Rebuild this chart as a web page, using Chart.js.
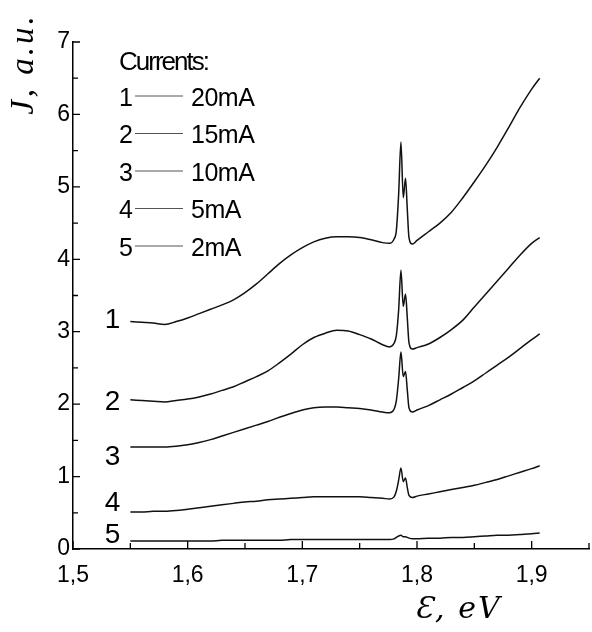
<!DOCTYPE html>
<html><head><meta charset="utf-8">
<script src="https://cdn.jsdelivr.net/npm/chart.js@4.4.1/dist/chart.umd.min.js"></script>
<style>html,body{margin:0;padding:0;background:#fff;} #wrap{width:592px;height:632px;}</style>
</head><body><div id="wrap"><canvas id="c" width="592" height="632"></canvas></div>
<script>
// Photon energy, eV
const energy = [1.55,1.56,1.57,1.58,1.59,1.60,1.61,1.62,1.63,1.64,1.65,1.66,1.67,1.68,1.69,1.70,1.71,1.72,1.73,1.74,1.75,1.76,1.77,
  1.776,1.780,1.782,1.784,1.786,1.788,1.790,1.7915,1.793,1.796,
  1.80,1.81,1.82,1.83,1.84,1.85,1.86,1.87,1.88,1.89,1.90,1.907];
const current20 = [3.14,3.13,3.12,3.10,3.14,3.19,3.25,3.31,3.37,3.44,3.54,3.66,3.80,3.94,4.06,4.16,4.24,4.29,4.31,4.31,4.30,4.27,4.23,
  4.22,4.28,4.40,4.90,5.62,4.85,5.12,4.70,4.30,4.21,
  4.26,4.38,4.50,4.65,4.85,5.07,5.30,5.55,5.82,6.10,6.35,6.50];
const current15 = [2.06,2.05,2.04,2.03,2.05,2.07,2.10,2.14,2.19,2.24,2.31,2.38,2.46,2.57,2.69,2.82,2.92,2.98,3.02,3.01,2.96,2.90,2.82,
  2.79,2.84,2.95,3.30,3.85,3.35,3.52,3.20,2.85,2.76,
  2.78,2.83,2.92,3.03,3.16,3.34,3.52,3.70,3.88,4.06,4.22,4.30];
const current10 = [1.41,1.41,1.41,1.41,1.42,1.44,1.47,1.51,1.56,1.61,1.66,1.71,1.76,1.82,1.87,1.92,1.95,1.96,1.96,1.95,1.94,1.92,1.89,
  1.88,1.93,2.05,2.35,2.72,2.38,2.45,2.20,1.95,1.89,
  1.92,1.98,2.06,2.14,2.23,2.32,2.43,2.54,2.65,2.77,2.89,2.97];
const current5 = [0.51,0.51,0.52,0.52,0.53,0.55,0.57,0.59,0.61,0.63,0.65,0.66,0.68,0.69,0.70,0.71,0.72,0.72,0.72,0.72,0.72,0.71,0.70,
  0.69,0.72,0.80,0.95,1.12,0.93,0.98,0.85,0.74,0.71,
  0.73,0.76,0.79,0.82,0.85,0.88,0.92,0.96,1.01,1.06,1.11,1.15];
const current2 = [0.11,0.11,0.11,0.11,0.11,0.11,0.11,0.11,0.12,0.12,0.12,0.12,0.12,0.12,0.13,0.13,0.13,0.13,0.13,0.13,0.13,0.13,0.13,
  0.13,0.14,0.16,0.18,0.19,0.17,0.17,0.16,0.15,0.14,
  0.14,0.15,0.15,0.16,0.16,0.17,0.18,0.19,0.19,0.20,0.21,0.22];
const seriesValues = [current20, current15, current10, current5, current2];
const seriesNumbers = ['1','2','3','4','5'];
const seriesNames = ['20mA','15mA','10mA','5mA','2mA'];
const legendTitle = 'Currents:';
const curveLabelX = 1.5345;
const curveLabelY = [3.16, 2.03, 1.27, 0.635, 0.19];
const xTicks = [1.5,1.6,1.7,1.8,1.9];
const xMinorTicks = [1.55,1.65,1.75,1.85,1.95];
const yTicks = [0,1,2,3,4,5,6,7];
const yMinorTicks = [0.5,1.5,2.5,3.5,4.5,5.5,6.5];
const xTitle = 'Ɛ, eV';
const yTitle = 'J, a.u.';

const fmt = v => (Math.round(v*10)/10).toString().replace('.', ',');

const datasets = seriesValues.map((vals, i) => ({
  label: seriesNames[i],
  data: energy.map((x, k) => ({x: x, y: vals[k]})),
  borderColor: '#111', borderWidth: 1.5, pointRadius: 0,
  cubicInterpolationMode: 'monotone', fill: false
}));

const deco = {
  id: 'deco',
  afterDraw(chart) {
    const ctx = chart.ctx, xs = chart.scales.x, ys = chart.scales.y;
    const ca = chart.chartArea;
    ctx.save();
    ctx.strokeStyle = '#000'; ctx.lineWidth = 1.3;
    // inward ticks
    ctx.beginPath();
    xTicks.forEach(v => { const p = xs.getPixelForValue(v); ctx.moveTo(p, ca.bottom); ctx.lineTo(p, ca.bottom - 8); });
    xMinorTicks.forEach(v => { const p = xs.getPixelForValue(v); ctx.moveTo(p, ca.bottom); ctx.lineTo(p, ca.bottom - 6); });
    yTicks.forEach(v => { const p = ys.getPixelForValue(v); ctx.moveTo(ca.left, p); ctx.lineTo(ca.left + 7, p); });
    yMinorTicks.forEach(v => { const p = ys.getPixelForValue(v); ctx.moveTo(ca.left, p); ctx.lineTo(ca.left + 5, p); });
    ctx.stroke();
    // curve numbers
    ctx.fillStyle = '#000';
    ctx.font = '28px "Liberation Sans", Arial, sans-serif';
    ctx.textAlign = 'center'; ctx.textBaseline = 'middle';
    curveLabelY.forEach((v, i) => {
      ctx.fillText(seriesNumbers[i], xs.getPixelForValue(curveLabelX), ys.getPixelForValue(v));
    });
    // legend
    ctx.textAlign = 'left';
    ctx.font = '26px "Liberation Sans", Arial, sans-serif';
    ctx.letterSpacing = '-2px';
    ctx.fillText(legendTitle, 119, 63);
    ctx.letterSpacing = '-0.5px';
    ctx.font = '25px "Liberation Sans", Arial, sans-serif';
    seriesNames.forEach((n, i) => {
      const y = 99 + i * 37.5;
      ctx.fillText(seriesNumbers[i], 119, y);
      ctx.fillText(n, 191, y);
      ctx.strokeStyle = '#555'; ctx.lineWidth = 1;
      ctx.beginPath(); ctx.moveTo(135, y - 3); ctx.lineTo(183, y - 3); ctx.stroke();
    });
    // axis titles
    ctx.letterSpacing = '2px';
    ctx.font = 'italic 30px "DejaVu Serif", "Liberation Serif", serif';
    ctx.textAlign = 'center';
    ctx.fillText(xTitle, 458, 610);
    ctx.save();
    ctx.translate(24, 64);
    ctx.rotate(-Math.PI / 2);
    ctx.letterSpacing = '3px';
    ctx.font = 'italic 33px "Liberation Serif", "DejaVu Serif", serif';
    ctx.fillText(yTitle, 0, 0);
    ctx.restore();
    ctx.restore();
  }
};

new Chart(document.getElementById('c'), {
  type: 'line',
  data: { datasets: datasets },
  options: {
    responsive: false, animation: false,
    layout: { padding: { top: 42, right: 3, left: 0, bottom: 0 } },
    plugins: { legend: { display: false }, tooltip: { enabled: false } },
    scales: {
      x: {
        type: 'linear', min: 1.5, max: 1.95,
        afterFit: s => { s.height = 83; },
        afterBuildTicks: s => { s.ticks = xTicks.map(v => ({ value: v })); },
        grid: { display: true, drawOnChartArea: false, drawTicks: false },
        border: { display: true, color: '#000', width: 1.5 },
        ticks: { padding: 13, color: '#000', maxRotation: 0, autoSkip: false,
          font: { family: '"Liberation Sans", Arial, sans-serif', size: 23 }, callback: v => fmt(v) }
      },
      y: {
        type: 'linear', min: 0, max: 7,
        afterFit: s => { s.width = 73; },
        afterBuildTicks: s => { s.ticks = yTicks.map(v => ({ value: v })); },
        grid: { display: true, drawOnChartArea: false, drawTicks: false },
        border: { display: true, color: '#000', width: 1.5 },
        ticks: { padding: 3, color: '#000', autoSkip: false,
          font: { family: '"Liberation Sans", Arial, sans-serif', size: 23 }, callback: v => fmt(v) }
      }
    }
  },
  plugins: [deco]
});
</script></body></html>
